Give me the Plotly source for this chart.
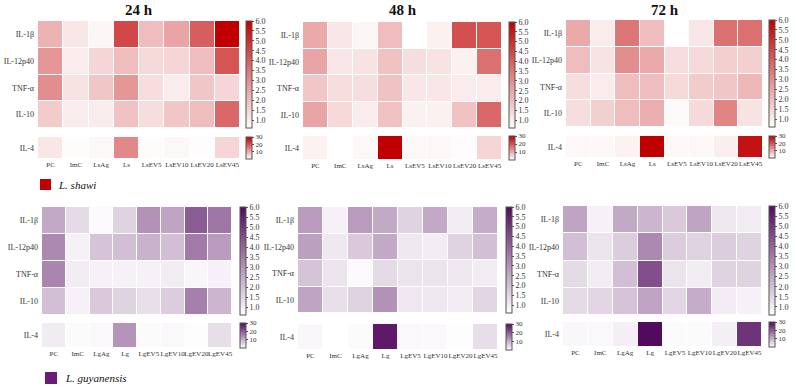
import plotly.graph_objects as go

W, H = 796, 387

rows_main = ["IL-1β", "IL-12p40", "TNF-α", "IL-10"]
row_il4 = ["IL-4"]
cols_ls = ["PC", "ImC", "LsAg", "Ls", "LsEV5", "LsEV10", "LsEV20", "LsEV45"]
cols_lg = ["PC", "ImC", "LgAg", "Lg", "LgEV5", "LgEV10", "LgEV20", "LgEV45"]
times = ["24 h", "48 h", "72 h"]

# L. shawi main cytokines (fold change), rows = rows_main
ls_24 = [[2.2, 1.1, 0.8, 4.5, 2.0, 2.5, 4.0, 6.0],
         [2.8, 1.0, 1.5, 2.0, 1.4, 1.5, 2.0, 4.2],
         [3.0, 1.2, 1.8, 2.8, 1.3, 1.0, 1.8, 1.5],
         [1.7, 1.0, 1.0, 1.9, 1.3, 1.8, 2.0, 3.8]]
ls_48 = [[2.4, 1.1, 0.8, 2.0, 0.6, 0.9, 4.3, 4.2],
         [2.5, 1.1, 1.2, 1.9, 1.3, 1.2, 0.9, 3.6],
         [1.8, 1.3, 1.3, 1.9, 1.1, 1.1, 1.0, 1.0],
         [2.5, 1.4, 1.0, 1.9, 0.9, 0.9, 1.9, 3.8]]
ls_72 = [[2.4, 1.0, 3.5, 2.0, 0.6, 1.1, 3.6, 3.6],
         [2.0, 1.2, 3.0, 2.4, 1.3, 1.4, 1.6, 1.6],
         [1.3, 1.0, 2.0, 2.0, 1.4, 1.7, 1.8, 2.1],
         [1.3, 1.6, 2.0, 2.3, 0.7, 1.4, 3.2, 1.2]]
ls_il4_24 = [3.0, 0.5, 0.8, 14.0, 0.5, 0.8, 0.3, 5.0]
ls_il4_48 = [1.5, 0.0, 0.8, 30.0, 0.8, 1.0, 0.3, 5.0]
ls_il4_72 = [1.0, 1.0, 1.5, 30.0, 1.0, 1.0, 2.0, 28.0]

# L. guyanensis
lg_24 = [[2.5, 1.4, 0.7, 1.6, 3.0, 2.6, 4.2, 3.6],
         [3.2, 0.9, 1.9, 2.0, 2.3, 2.0, 3.5, 2.8],
         [3.3, 1.0, 0.9, 0.9, 0.9, 1.0, 0.8, 0.9],
         [2.0, 0.9, 1.8, 1.6, 1.3, 1.7, 3.4, 2.2]]
lg_48 = [[2.8, 0.9, 2.8, 2.5, 1.6, 2.5, 1.0, 2.4],
         [2.7, 1.1, 1.8, 2.5, 1.1, 1.0, 1.6, 2.0],
         [1.9, 1.2, 0.7, 1.4, 1.2, 1.2, 1.1, 1.0],
         [2.6, 1.3, 1.6, 3.0, 1.1, 1.1, 1.0, 1.5]]
lg_72 = [[2.6, 0.9, 2.5, 2.2, 1.8, 2.6, 1.1, 1.0],
         [2.0, 1.2, 1.7, 3.2, 1.7, 1.6, 1.7, 1.6],
         [1.4, 1.0, 2.0, 4.5, 1.2, 1.0, 1.6, 1.6],
         [1.4, 1.5, 1.9, 2.6, 1.5, 2.4, 1.0, 0.9]]
lg_il4_24 = [2.5, 0.5, 0.8, 13.0, 0.5, 0.8, 0.3, 4.0]
lg_il4_48 = [1.0, 0.0, 0.5, 28.0, 0.8, 0.8, 0.3, 4.0]
lg_il4_72 = [1.0, 0.8, 2.0, 30.0, 0.5, 0.5, 2.0, 25.0]

RED = [[0, "#ffffff"], [1, "#c00000"]]
PURPLE = [[0, "#ffffff"], [1, "#520a5e"]]
SERIF = "Liberation Serif, Times New Roman, serif"

# pixel boxes: (x0, x1, main_y0, main_y1, il4_y0, il4_y1, cb_x)
boxes = [
    (38, 240, 21, 128, 137, 159, 246),
    (303, 502, 22, 128, 136, 160, 509),
    (566, 763, 20, 127, 136, 158, 769),
    (42, 232, 207, 315, 323, 348, 240),
    (298, 498, 207, 313, 324, 350, 506),
    (563, 762, 206, 315, 322, 347, 769),
]

panels = [
    (ls_24, ls_il4_24, cols_ls, RED),
    (ls_48, ls_il4_48, cols_ls, RED),
    (ls_72, ls_il4_72, cols_ls, RED),
    (lg_24, lg_il4_24, cols_lg, PURPLE),
    (lg_48, lg_il4_48, cols_lg, PURPLE),
    (lg_72, lg_il4_72, cols_lg, PURPLE),
]

def px(x):
    return x / W

def py(y):
    return 1 - y / H

fig = go.Figure()
layout = {}
ax = 0
for i, ((main, il4, cols, cs), b) in enumerate(zip(panels, boxes)):
    x0, x1, my0, my1, iy0, iy1, cbx = b
    for kind in ("main", "il4"):
        ax += 1
        sfx = "" if ax == 1 else str(ax)
        if kind == "main":
            z, ylab, zmin, zmax = main, rows_main, 0.6, 6.0
            ya, yb = my0, my1
            tickvals = [1.0, 1.5, 2.0, 2.5, 3.0, 3.5, 4.0, 4.5, 5.0, 5.5, 6.0]
            cbfont = 8
        else:
            z, ylab, zmin, zmax = [il4], row_il4, 0.0, 30.0
            ya, yb = iy0, iy1
            tickvals = [10, 20, 30]
            cbfont = 7
        fig.add_trace(go.Heatmap(
            z=z, x=cols, y=ylab, colorscale=cs, zmin=zmin, zmax=zmax,
            xgap=1, ygap=1, xaxis="x" + sfx, yaxis="y" + sfx,
            hoverinfo="skip",
            colorbar=dict(
                x=px(cbx), xanchor="left", xpad=0, ypad=0,
                y=py(ya), yanchor="top", lenmode="pixels", len=yb - ya,
                thickness=6, thicknessmode="pixels",
                outlinewidth=1, outlinecolor="#555555",
                tickvals=tickvals,
                tickformat=".1f" if kind == "main" else "d",
                ticks="outside", ticklen=2, tickwidth=1, tickcolor="#555555",
                tickfont=dict(family=SERIF, size=cbfont, color="#333333"),
            ),
        ))
        layout["xaxis" + sfx] = dict(
            domain=[px(x0), px(x1)], anchor="y" + sfx,
            showticklabels=(kind == "il4"), ticks="", tickangle=0,
            tickfont=dict(family=SERIF, size=7, color="#333333"),
            showgrid=False, zeroline=False, showline=False,
        )
        layout["yaxis" + sfx] = dict(
            domain=[py(yb), py(ya)], anchor="x" + sfx,
            autorange="reversed", ticks="", ticklabelstandoff=3,
            tickfont=dict(family=SERIF, size=8, color="#333333"),
            showgrid=False, zeroline=False, showline=False,
        )

annotations = []
for i, t in enumerate(times):
    x0, x1 = boxes[i][0], boxes[i][1]
    annotations.append(dict(
        text="<b>" + t + "</b>", x=px((x0 + x1) / 2), y=py(10),
        xref="paper", yref="paper", showarrow=False,
        font=dict(family=SERIF, size=15, color="#111111"),
        xanchor="center", yanchor="middle",
    ))

shapes = [
    dict(type="rect", xref="paper", yref="paper",
         x0=px(40), x1=px(51), y0=py(190), y1=py(179),
         fillcolor="#c00000", line=dict(width=0)),
    dict(type="rect", xref="paper", yref="paper",
         x0=px(45), x1=px(57), y0=py(384), y1=py(372),
         fillcolor="#6a1b7a", line=dict(width=0)),
]
annotations.append(dict(text="<i>L. shawi</i>", x=px(56), y=py(185),
                        xref="paper", yref="paper", showarrow=False,
                        xanchor="left", yanchor="middle",
                        font=dict(family=SERIF, size=11, color="#111111")))
annotations.append(dict(text="<i>L. guyanensis</i>", x=px(63), y=py(378),
                        xref="paper", yref="paper", showarrow=False,
                        xanchor="left", yanchor="middle",
                        font=dict(family=SERIF, size=11, color="#111111")))

fig.update_layout(
    width=W, height=H, margin=dict(l=0, r=0, t=0, b=0),
    paper_bgcolor="white", plot_bgcolor="white",
    annotations=annotations, shapes=shapes, **layout,
)

fig.write_html("out.html", config={"displayModeBar": False},
               post_script="document.body.style.margin='0';document.body.style.padding='0';")
